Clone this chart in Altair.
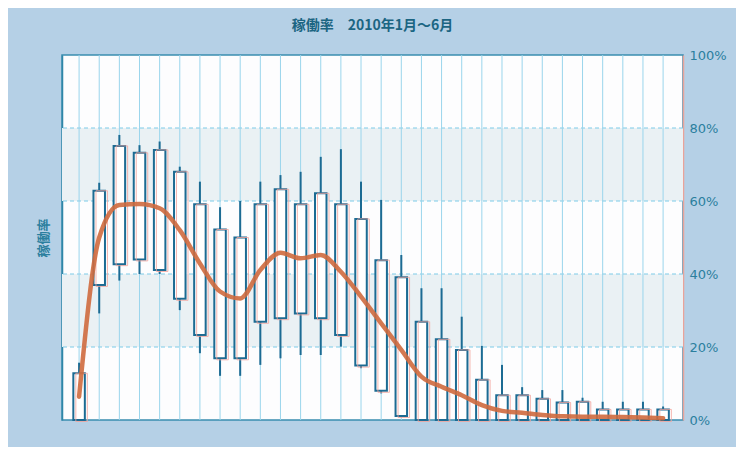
import altair as alt
import pandas as pd

# ---- data ----
times = ["7:30", "8:00", "8:30", "9:00", "9:30", "10:00", "10:30", "11:00", "11:30", "12:00",
         "12:30", "13:00", "13:30", "14:00", "14:30", "15:00", "15:30", "16:00", "16:30", "17:00",
         "17:30", "18:00", "18:30", "19:00", "19:30", "20:00", "20:30", "21:00", "21:30", "22:00"]
high = [15.7, 65.0, 78.1, 75.3, 76.3, 69.4, 65.3, 58.3, 60.0, 65.3,
        67.1, 68.0, 72.1, 74.2, 65.3, 60.3, 45.2, 36.1, 36.1, 28.3,
        20.3, 15.1, 9.0, 8.2, 8.2, 6.1, 5.0, 5.0, 5.0, 3.7]
box_top = [12.8, 62.8, 75.1, 73.2, 74.0, 68.0, 59.1, 52.2, 50.0, 59.1,
           63.2, 59.1, 62.1, 59.1, 55.1, 43.8, 39.1, 26.9, 22.1, 19.2,
           11.0, 6.8, 6.8, 5.8, 4.8, 5.0, 2.9, 2.9, 2.9, 2.9]
box_bottom = [0.0, 37.0, 42.7, 44.0, 41.1, 33.2, 23.3, 16.9, 16.9, 26.9,
              27.9, 29.2, 27.9, 23.3, 14.9, 8.0, 1.1, 0.0, 0.0, 0.0,
              0.0, 0.0, 0.0, 0.0, 0.0, 0.0, 0.0, 0.0, 0.0, 0.0]
low = [0.0, 29.2, 38.2, 40.0, 40.0, 30.1, 18.3, 12.1, 12.1, 15.1,
       16.9, 17.8, 17.8, 20.1, 14.2, 7.3, 1.1, 0.0, 0.0, 0.0,
       0.0, 0.0, 0.0, 0.0, 0.0, 0.0, 0.0, 0.0, 0.0, 0.0]
average = [6.4, 50.0, 58.9, 59.2, 58.0, 52.0, 42.9, 35.2, 33.3, 41.1,
           45.8, 44.3, 45.2, 40.6, 33.8, 26.5, 19.2, 11.9, 9.1, 6.8,
           4.1, 2.5, 2.0, 1.4, 1.0, 0.9, 0.9, 0.8, 0.7, 0.5]
band_low = [20, 60]
band_high = [40, 80]
y_ticks = [0, 20, 40, 60, 80, 100]
grid_ticks = [20, 40, 60, 80]
x_ticks = [9, 12, 15, 18, 21]
title_text = "稼働率　2010年1月～6月"
y_title = "稼働率"


def to_hours(t):
    h, m = t.split(":")
    return int(h) + int(m) / 60


df = pd.DataFrame({
    "time": times,
    "hour": [to_hours(t) for t in times],
    "high": high,
    "top": box_top,
    "bottom": box_bottom,
    "low": low,
    "avg": average,
})
bands = pd.DataFrame({"lo": band_low, "hi": band_high})
grid_df = pd.DataFrame({"v": grid_ticks})

TEAL = "#2b7f9e"
BLUE = "#1c6b93"
xscale = alt.Scale(domain=[7.2, 22.37], nice=False, zero=False)
yscale = alt.Scale(domain=[0, 100], nice=False)

x_axis = alt.Axis(values=x_ticks, labelExpr="datum.value + ':00'", grid=False, ticks=False,
                  domainColor="#2f86a8", domainWidth=1.5, labelColor=TEAL, labelFont="DejaVu Sans",
                  labelFontSize=13, labelPadding=8, title=None)

band_layer = alt.Chart(bands).mark_rect(color="#eaf1f4").encode(
    y=alt.Y("lo:Q", scale=yscale, axis=None),
    y2="hi:Q",
)

hgrid = alt.Chart(grid_df).mark_rule(color="#7ccbe8", strokeWidth=1, strokeDash=[4, 3]).encode(
    y=alt.Y("v:Q", scale=yscale, axis=None),
)

vgrid = alt.Chart(df).mark_rule(color="#9ad5ec", strokeWidth=1).encode(
    x=alt.X("hour:Q", scale=xscale, axis=x_axis),
)

wick = alt.Chart(df).mark_rule(color=BLUE, strokeWidth=2).encode(
    x=alt.X("hour:Q", scale=xscale, axis=None),
    y=alt.Y("low:Q", scale=yscale, axis=None),
    y2="high:Q",
)

right_axis = alt.Axis(orient="right", values=y_ticks, labelExpr="datum.value + '%'",
                      grid=False, ticks=False, domainColor="#e9a39a", domainWidth=1.5,
                      labelColor=TEAL, labelFont="DejaVu Sans", labelFontSize=13,
                      labelPadding=6, title=None)

box = alt.Chart(df).mark_bar(width=11.5, fill="white", stroke=BLUE, strokeWidth=2).encode(
    x=alt.X("hour:Q", scale=xscale, axis=None),
    y=alt.Y("bottom:Q", scale=yscale, axis=right_axis),
    y2="top:Q",
)

shadow = alt.Chart(df).mark_bar(width=11.5, fillOpacity=0, stroke="#f2a39b", strokeWidth=1,
                                 strokeOpacity=0.8, xOffset=2.5, yOffset=1.5).encode(
    x=alt.X("hour:Q", scale=xscale, axis=None),
    y=alt.Y("bottom:Q", scale=yscale, axis=None),
    y2="top:Q",
)

left_axis = alt.Axis(orient="left", labels=False, ticks=False, grid=False,
                     domainColor="#2f86a8", domainWidth=1.5, title=y_title,
                     titleFont="Noto Sans CJK JP", titleFontSize=13, titleFontWeight="bold",
                     titleColor=TEAL, titlePadding=12)

line = alt.Chart(df).mark_line(color="#cf6a3e", strokeWidth=4.5, opacity=0.9,
                               interpolate="monotone", strokeCap="round").encode(
    x=alt.X("hour:Q", scale=xscale, axis=None),
    y=alt.Y("avg:Q", scale=yscale, axis=left_axis),
)

chart = alt.layer(band_layer, hgrid, vgrid, wick, box, shadow, line).resolve_axis(
    y="independent"
).properties(
    width=621,
    height=365,
    autosize=alt.AutoSizeParams(type="none"),
    padding={"left": 54, "top": 47, "right": 53, "bottom": 27},
    background="#b5d0e6",
    title=alt.TitleParams(title_text, font="Noto Sans CJK JP", fontSize=14, fontWeight="bold",
                          color="#1b6582", offset=16, anchor="middle"),
).configure_view(
    fill="#fdfdfe", stroke="#3a8db0", strokeWidth=1.5
)

chart.save("out.html", embed_options={"renderer": "svg", "actions": False})
